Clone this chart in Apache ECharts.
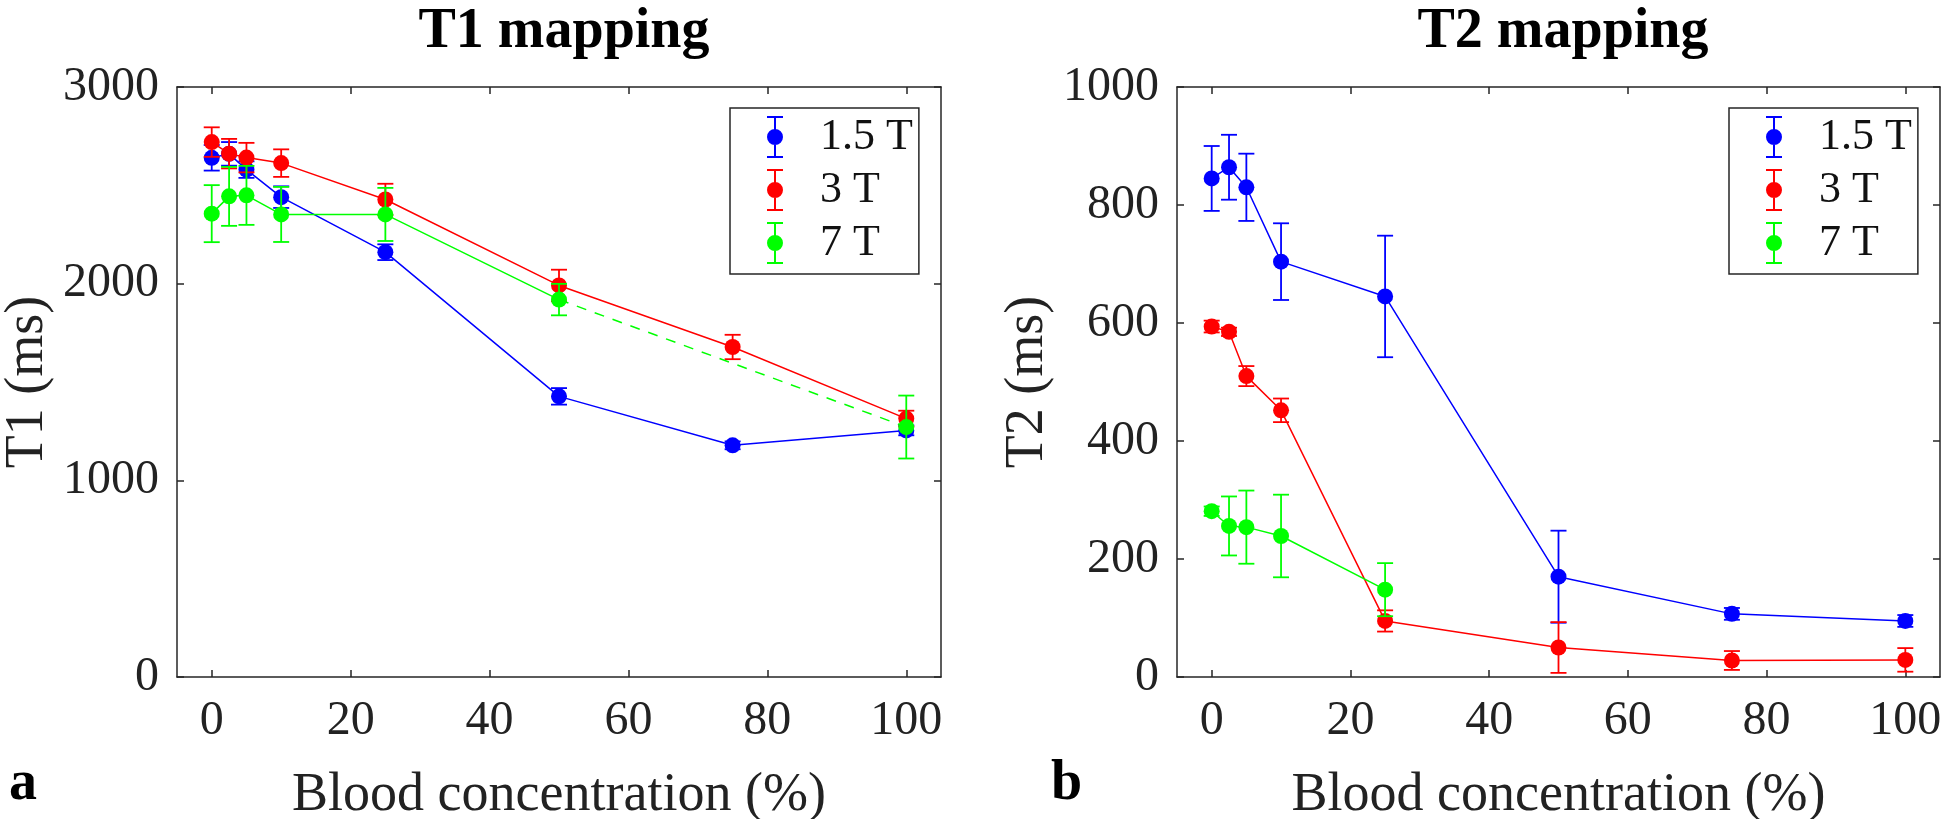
<!DOCTYPE html>
<html>
<head>
<meta charset="utf-8">
<script src="https://cdn.jsdelivr.net/npm/echarts@6/dist/echarts.min.js"></script>
<style>
  html, body { margin: 0; padding: 0; background: #ffffff; }
  #chart { width: 1946px; height: 819px; }
</style>
</head>
<body>
<div id="chart"></div>
<script>
// ---------------- data ----------------
const conc = [0, 2.5, 5, 10, 25, 50, 75, 100];
const fieldNames = ['1.5 T', '3 T', '7 T'];
const xTicks = [0, 20, 40, 60, 80, 100];
const t1Ticks = [0, 1000, 2000, 3000];
const t2Ticks = [0, 200, 400, 600, 800, 1000];

const t1_15 = [2640, 2660, 2580, 2440, 2160, 1427, 1178, 1254];
const t1_15_sd = [65, 60, 42, 55, 40, 42, 20, 25];
const t1_3 = [2720, 2661, 2641, 2613, 2428, 1991, 1678, 1314];
const t1_3_sd = [75, 75, 75, 70, 80, 80, 62, 40];
const t1_7 = [2356, 2444, 2449, 2352, 2352, 1919, null, 1271];
const t1_7_sd = [145, 150, 150, 140, 135, 80, null, 160];

const t2_15 = [845, 864, 830, 704, 645, 170, 107, 95];
const t2_15_sd = [55, 55, 57, 65, 103, 78, 10, 10];
const t2_3 = [594, 585, 510, 452, 95, 50, 28, 29];
const t2_3_sd = [10, 7, 17, 20, 18, 43, 16, 20];
const t2_7 = [281, 256, 254, 239, 148, null, null, null];
const t2_7_sd = [8, 50, 62, 70, 45, null, null, null];

// ---------------- styles ----------------
const colors = ['#0000ff', '#ff0000', '#00ff00'];
const FONT = 'Liberation Serif';
const AX = '#262626';
const ICON = 'path://M0,0h16v2h-16z M7,0h2v42h-2z M0,40h16v2h-16z M0,21a8,8 0 1,1 16,0a8,8 0 1,1 -16,0z';

function lineData(vals) {
  return conc.map((c, i) => [c, vals[i] == null ? '-' : vals[i]]);
}
function errData(vals, sd) {
  const out = [];
  conc.forEach((c, i) => {
    if (vals[i] != null && sd[i] != null) out.push([c, vals[i] - sd[i], vals[i] + sd[i]]);
  });
  return out;
}
function bridges(vals) {
  // segments spanning interior missing values (drawn dashed)
  const segs = [];
  let last = -1;
  for (let i = 0; i < vals.length; i++) {
    if (vals[i] != null) {
      if (last >= 0 && i - last > 1) segs.push([[conc[last], vals[last]], [conc[i], vals[i]]]);
      last = i;
    }
  }
  return segs;
}
function renderErr(params, api) {
  const x = api.value(0), lo = api.value(1), hi = api.value(2);
  const pHi = api.coord([x, hi]);
  const pLo = api.coord([x, lo]);
  const w = 8;
  const style = { stroke: api.visual('color'), lineWidth: 1.8, fill: null };
  return {
    type: 'group',
    children: [
      { type: 'line', shape: { x1: pHi[0], y1: pHi[1], x2: pLo[0], y2: pLo[1] }, style: style },
      { type: 'line', shape: { x1: pHi[0] - w, y1: pHi[1], x2: pHi[0] + w, y2: pHi[1] }, style: style },
      { type: 'line', shape: { x1: pLo[0] - w, y1: pLo[1], x2: pLo[0] + w, y2: pLo[1] }, style: style }
    ]
  };
}

function buildSeries(gridIdx, groups) {
  const out = [];
  groups.forEach((g, k) => {
    const color = colors[k];
    const xi = gridIdx * 2, yi = gridIdx * 2;
    out.push({
      type: 'custom', name: fieldNames[k], xAxisIndex: xi, yAxisIndex: yi,
      renderItem: renderErr, data: errData(g[0], g[1]),
      encode: { x: 0, y: [1, 2] }, itemStyle: { color: color },
      z: 2 + k, silent: true
    });
    out.push({
      type: 'line', name: fieldNames[k], xAxisIndex: xi, yAxisIndex: yi,
      data: lineData(g[0]), connectNulls: false,
      symbol: 'circle', symbolSize: 16, showSymbol: true,
      itemStyle: { color: color, borderWidth: 0 },
      lineStyle: { color: color, width: 1.5 },
      emphasis: { disabled: true }, z: 2 + k, silent: true
    });
    bridges(g[0]).forEach(seg => {
      out.push({
        type: 'line', name: fieldNames[k] + ' gap', xAxisIndex: xi, yAxisIndex: yi,
        data: seg, symbol: 'none',
        lineStyle: { color: color, width: 1.5, type: [10, 9] },
        emphasis: { disabled: true }, z: 2 + k, silent: true
      });
    });
  });
  return out;
}

const plainNum = v => String(v);

function xAxes(gridIdx) {
  const base = {
    type: 'value', gridIndex: gridIdx, min: -5, max: 105,
    axisLine: { show: true, onZero: false, lineStyle: { color: AX, width: 1.5 } },
    axisTick: { show: true, inside: true, length: 7, customValues: xTicks, lineStyle: { color: AX, width: 1.5 } },
    splitLine: { show: false }
  };
  return [
    Object.assign({}, base, {
      position: 'bottom',
      axisLabel: { show: true, customValues: xTicks, formatter: plainNum, margin: 20, color: '#222', fontFamily: FONT, fontSize: 48 },
      name: 'Blood concentration (%)', nameLocation: 'middle', nameGap: 92,
      nameTextStyle: { color: '#222', fontFamily: FONT, fontSize: 54 }
    }),
    Object.assign({}, base, { position: 'top', axisLabel: { show: false } })
  ];
}
function yAxes(gridIdx, max, ticks, name) {
  const base = {
    type: 'value', gridIndex: gridIdx, min: 0, max: max,
    axisLine: { show: true, onZero: false, lineStyle: { color: AX, width: 1.5 } },
    axisTick: { show: true, inside: true, length: 7, customValues: ticks, lineStyle: { color: AX, width: 1.5 } },
    splitLine: { show: false }
  };
  return [
    Object.assign({}, base, {
      position: 'left',
      axisLabel: { show: true, customValues: ticks, formatter: plainNum, margin: 18, color: '#222', fontFamily: FONT, fontSize: 48 },
      name: name, nameLocation: 'middle', nameGap: 122,
      nameTextStyle: { color: '#222', fontFamily: FONT, fontSize: 54 }
    }),
    Object.assign({}, base, { position: 'right', axisLabel: { show: false } })
  ];
}
function legendAt(left) {
  return {
    orient: 'vertical', left: left, top: 108,
    data: fieldNames.map(n => ({ name: n, icon: ICON })),
    itemWidth: 16, itemHeight: 42, itemGap: 9,
    padding: [7, 6, 9, 37],
    backgroundColor: '#ffffff', borderColor: AX, borderWidth: 1.5, borderRadius: 0,
    selectedMode: false,
    textStyle: { color: '#111', fontFamily: FONT, fontSize: 44, padding: [0, 0, 0, 32] }
  };
}

const chart = echarts.init(document.getElementById('chart'), null, { renderer: 'canvas', width: 1946, height: 819 });
const option = {
  animation: false,
  backgroundColor: '#ffffff',
  title: [
    { text: 'T1 mapping', left: 559, top: 0, textAlign: 'center',
      textStyle: { fontFamily: FONT, fontWeight: 'bold', fontSize: 56, color: '#000' } },
    { text: 'T2 mapping', left: 1558, top: 0, textAlign: 'center',
      textStyle: { fontFamily: FONT, fontWeight: 'bold', fontSize: 56, color: '#000' } },
    { text: 'a', left: 4, top: 752,
      textStyle: { fontFamily: FONT, fontWeight: 'bold', fontSize: 56, color: '#000' } },
    { text: 'b', left: 1046, top: 752,
      textStyle: { fontFamily: FONT, fontWeight: 'bold', fontSize: 56, color: '#000' } }
  ],
  legend: [legendAt(730), legendAt(1729)],
  grid: [
    { left: 177, right: 1946 - 941, top: 87, bottom: 819 - 677, outerBoundsMode: 'none' },
    { left: 1177, right: 1946 - 1940, top: 87, bottom: 819 - 677, outerBoundsMode: 'none' }
  ],
  xAxis: xAxes(0).concat(xAxes(1)),
  yAxis: yAxes(0, 3000, t1Ticks, 'T1 (ms)').concat(yAxes(1, 1000, t2Ticks, 'T2 (ms)')),
  series: buildSeries(0, [[t1_15, t1_15_sd], [t1_3, t1_3_sd], [t1_7, t1_7_sd]])
    .concat(buildSeries(1, [[t2_15, t2_15_sd], [t2_3, t2_3_sd], [t2_7, t2_7_sd]]))
};
chart.setOption(option);
</script>
</body>
</html>
